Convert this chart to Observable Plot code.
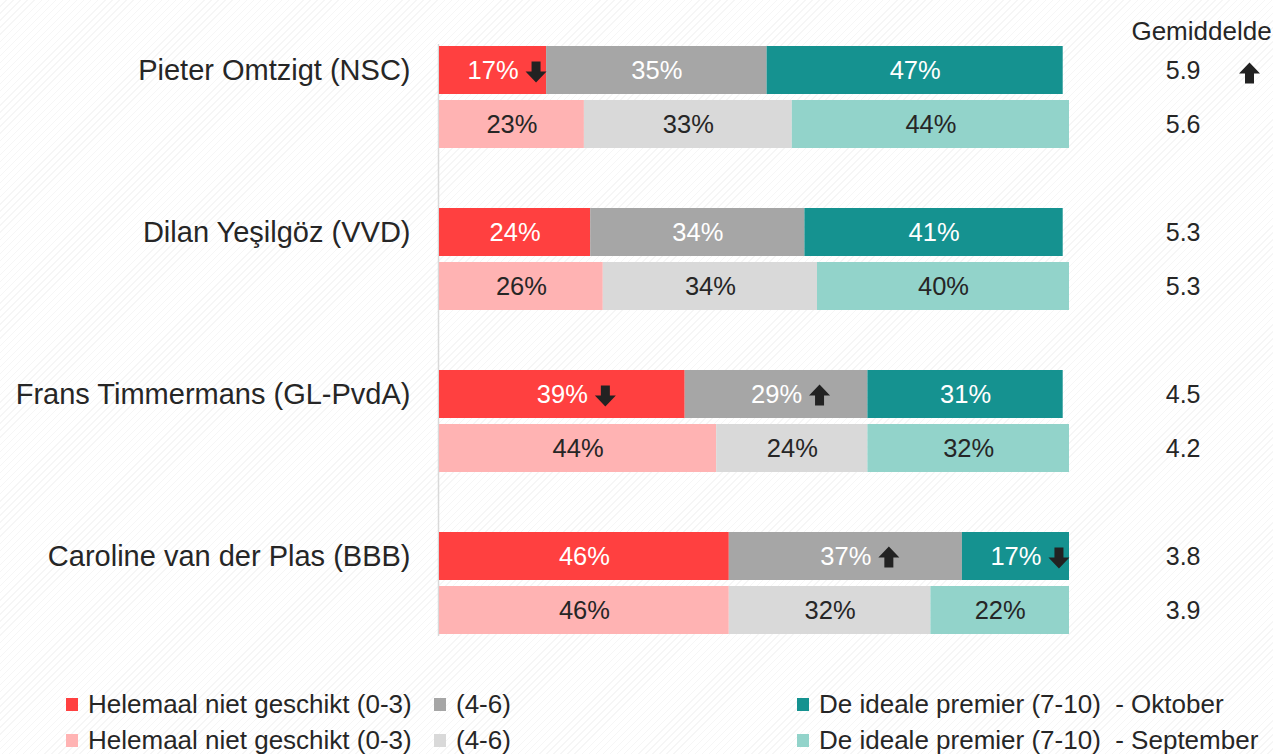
<!DOCTYPE html>
<html>
<head>
<meta charset="utf-8">
<script src="https://cdn.jsdelivr.net/npm/d3@7"></script>
<script src="https://cdn.jsdelivr.net/npm/@observablehq/plot@0.6"></script>
<style>
  html, body { margin: 0; padding: 0; }
  body {
    width: 1273px; height: 754px; overflow: hidden; position: relative;
    font-family: "Liberation Sans", Arial, sans-serif; color: #262626;
    background: repeating-linear-gradient(135deg, #ffffff 0px, #ffffff 4px, #f6f6f6 4px, #f6f6f6 5px);
  }
  #chart svg { background: transparent !important; display: block; }
  .legend { position: absolute; left: 0; width: 1273px; height: 36px; }
  .item { position: absolute; top: 0; height: 36px; display: flex; align-items: center; font-size: 26px; white-space: pre; }
  .sw { width: 12px; height: 13px; margin-right: 10px; flex: none; }
</style>
</head>
<body>
<div id="chart"></div>
<div id="legend"></div>
<script>
// ---- data ----
const candidates = ["Pieter Omtzigt (NSC)", "Dilan Yeşilgöz (VVD)", "Frans Timmermans (GL-PvdA)", "Caroline van der Plas (BBB)"];
const months = ["Oktober", "September"];
const categories = ["Helemaal niet geschikt (0-3)", "(4-6)", "De ideale premier (7-10)"];
const octNiet = [17, 24, 39, 46];
const octMidden = [35, 34, 29, 37];
const octIdeaal = [47, 41, 31, 17];
const sepNiet = [23, 26, 44, 46];
const sepMidden = [33, 34, 24, 32];
const sepIdeaal = [44, 40, 32, 22];
const octGemiddelde = [5.9, 5.3, 4.5, 3.8];
const sepGemiddelde = [5.6, 5.3, 4.2, 3.9];
// significant change vs. September ("up" / "down" / "")
const octNietChange = ["down", "", "down", ""];
const octMiddenChange = ["", "", "up", "up"];
const octIdeaalChange = ["", "", "", "down"];
const octGemiddeldeChange = ["up", "", "", ""];
const headerLabel = "Gemiddelde";

// ---- palette ----
const palette = {
  "Oktober": ["#FF4040", "#A6A6A6", "#159290"],
  "September": ["#FFB3B3", "#D9D9D9", "#92D3CA"]
};

// ---- build table ----
const key = (i, m) => `${i}|${m}`;
const yDomain = [];
candidates.forEach((c, i) => {
  yDomain.push(key(i, "Oktober"), key(i, "September"));
  if (i < candidates.length - 1) yDomain.push(`gap${i}`);
});
const values = {
  "Oktober": [octNiet, octMidden, octIdeaal],
  "September": [sepNiet, sepMidden, sepIdeaal]
};
const changes = [octNietChange, octMiddenChange, octIdeaalChange];
const rows = [];
candidates.forEach((c, i) => {
  months.forEach(m => {
    categories.forEach((cat, j) => {
      rows.push({
        key: key(i, m), month: m, cat, catIndex: j,
        value: values[m][j][i],
        colorKey: `${cat}|${m}`,
        change: m === "Oktober" ? changes[j][i] : ""
      });
    });
  });
});
const avgRows = [];
candidates.forEach((c, i) => {
  avgRows.push({key: key(i, "Oktober"), value: octGemiddelde[i], change: octGemiddeldeChange[i]});
  avgRows.push({key: key(i, "September"), value: sepGemiddelde[i], change: ""});
});
const colorDomain = [], colorRange = [];
months.forEach(m => categories.forEach((cat, j) => { colorDomain.push(`${cat}|${m}`); colorRange.push(palette[m][j]); }));

// ---- arrow symbols ----
const arrowDown = {draw(ctx) {
  ctx.moveTo(-4.5, -10); ctx.lineTo(4.5, -10); ctx.lineTo(4.5, 0); ctx.lineTo(10.5, 0);
  ctx.lineTo(0, 11); ctx.lineTo(-10.5, 0); ctx.lineTo(-4.5, 0); ctx.closePath();
}};
const arrowUp = {draw(ctx) {
  ctx.moveTo(-4.5, 10); ctx.lineTo(4.5, 10); ctx.lineTo(4.5, 0); ctx.lineTo(10.5, 0);
  ctx.lineTo(0, -11); ctx.lineTo(-10.5, 0); ctx.lineTo(-4.5, 0); ctx.closePath();
}};

const font = '"Liberation Sans", Arial, sans-serif';
const stackOpts = {x: "value", y: "key", order: categories, z: "cat"};

const chart = Plot.plot({
  width: 1273,
  height: 687,
  marginLeft: 439,
  marginRight: 204,
  marginTop: 44,
  marginBottom: 51,
  style: {fontFamily: font, background: "transparent", color: "#262626"},
  x: {domain: [0, 100], axis: null},
  y: {domain: yDomain, paddingInner: 0.116, paddingOuter: 0, axis: null},
  color: {domain: colorDomain, range: colorRange},
  opacity: {type: "identity"},
  marks: [
    Plot.ruleX([0], {stroke: "#d9d9d9", strokeWidth: 1.5, dx: -1}),
    Plot.barX(rows, Plot.stackX({...stackOpts, fill: "colorKey"})),
    Plot.text(rows, Plot.stackX({...stackOpts, text: d => `${d.value}%`,
      fill: d => d.month === "Oktober" ? "#ffffff" : "#262626", fontSize: 25.5})),
    Plot.dot(rows, Plot.stackX({...stackOpts, symbol: arrowDown, fill: "#222222",
      fillOpacity: d => d.change === "down" ? 1 : 0, dx: 43, dy: 1})),
    Plot.dot(rows, Plot.stackX({...stackOpts, symbol: arrowUp, fill: "#222222",
      fillOpacity: d => d.change === "up" ? 1 : 0, dx: 43, dy: 1})),
    Plot.axisY({
      tickSize: 0, tickPadding: 29, fontSize: 29, label: null,
      tickFormat: k => { const [i, m] = String(k).split("|"); return m === "Oktober" ? candidates[+i] : ""; }
    }),
    Plot.text(avgRows, {y: "key", text: d => d.value.toFixed(1), frameAnchor: "right", dx: 131, fontSize: 25, fill: "#262626"}),
    Plot.dot(avgRows, {y: "key", frameAnchor: "right", symbol: arrowUp, fill: "#222222",
      fillOpacity: d => d.change === "up" ? 1 : 0, dx: 180, dy: 3}),
    Plot.text([headerLabel], {text: d => d, frameAnchor: "top-right", dx: 132, dy: -23, textAnchor: "middle", fontSize: 26, fill: "#262626"})
  ]
});
document.getElementById("chart").appendChild(chart);

// ---- legend ----
const legend = document.getElementById("legend");
const legendCols = [66, 434, 797];
months.forEach((m, r) => {
  const row = document.createElement("div");
  row.className = "legend";
  row.style.top = (686 + r * 36) + "px";
  categories.forEach((cat, j) => {
    const item = document.createElement("div");
    item.className = "item";
    item.style.left = legendCols[j] + "px";
    const sw = document.createElement("span");
    sw.className = "sw";
    sw.style.background = palette[m][j];
    item.appendChild(sw);
    const t = document.createElement("span");
    t.textContent = cat + (j === categories.length - 1 ? "  - " + m : "");
    item.appendChild(t);
    row.appendChild(item);
  });
  legend.appendChild(row);
});
</script>
</body>
</html>
